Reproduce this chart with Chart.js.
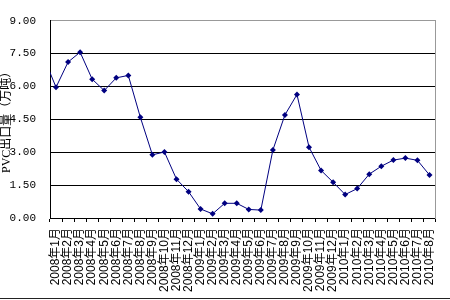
<!DOCTYPE html>
<html>
<head>
<meta charset="utf-8">
<script src="https://cdn.jsdelivr.net/npm/chart.js@4"></script>
<style>
  html, body { margin: 0; padding: 0; background: #fff; }
  #wrap { width: 450px; height: 300px; position: relative; }
  #bottomLine { position: absolute; left: 0; top: 298px; width: 450px; height: 1px; background: #222; }
</style>
</head>
<body>
<div id="wrap">
  <canvas id="exportChart" width="450" height="300"></canvas>
  <div id="bottomLine"></div>
</div>
<script>
// first label sits off the left edge, only its line stub shows
const months = [
    '2007年12月',
    '2008年1月', '2008年2月', '2008年3月', '2008年4月', '2008年5月', '2008年6月',
    '2008年7月', '2008年8月', '2008年9月', '2008年10月', '2008年11月', '2008年12月',
    '2009年1月', '2009年2月', '2009年3月', '2009年4月', '2009年5月', '2009年6月',
    '2009年7月', '2009年8月', '2009年9月', '2009年10月', '2009年11月', '2009年12月',
    '2010年1月', '2010年2月', '2010年3月', '2010年4月', '2010年5月', '2010年6月',
    '2010年7月', '2010年8月'
];
const pvcExport = [
    7.30,
    5.96, 7.11, 7.56, 6.33, 5.81, 6.39, 6.50, 4.59, 2.88, 3.01, 1.77, 1.20,
    0.41, 0.19, 0.67, 0.67, 0.39, 0.36, 3.10, 4.70, 5.63, 3.23, 2.17, 1.63,
    1.07, 1.34, 2.00, 2.36, 2.64, 2.73, 2.63, 1.96
];
const yTicks = [0, 1.5, 3, 4.5, 6, 7.5, 9];

const ctx = document.getElementById('exportChart');
new Chart(ctx, {
    type: 'line',
    data: {
        labels: months,
        datasets: [{
            label: 'PVC出口量',
            data: pvcExport,
            borderColor: '#000080',
            backgroundColor: '#000080',
            borderWidth: 1,
            pointStyle: 'rectRot',
            pointRadius: 3,
            pointBorderWidth: 0,
            tension: 0
        }]
    },
    options: {
        responsive: false,
        animation: false,
        events: [],
        layout: { padding: { top: 8, right: 7, left: 0, bottom: 0 } },
        plugins: { legend: { display: false }, tooltip: { enabled: false } },
        scales: {
            x: {
                min: '2008年1月',
                offset: true,
                grid: { offset: true, drawOnChartArea: false, drawTicks: true, tickLength: 4, color: '#000' },
                border: { color: '#000', width: 1 },
                ticks: {
                    autoSkip: false,
                    maxRotation: 90,
                    minRotation: 90,
                    padding: 6,
                    color: '#000',
                    font: { family: "Arial, 'Noto Sans CJK SC'", size: 12 }
                },
                afterFit: s => { s.height = 82; }
            },
            y: {
                min: 0,
                max: 9,
                afterBuildTicks: s => { s.ticks = yTicks.map(v => ({ value: v })); },
                grid: {
                    drawTicks: false,
                    color: c => (c.tick && c.tick.value === 9 ? '#999' : '#000'),
                    lineWidth: 1
                },
                border: { color: '#000', width: 1 },
                ticks: {
                    padding: 14,
                    color: '#000',
                    font: { family: "'Liberation Mono'", size: 11 },
                    callback: v => v.toFixed(2)
                },
                title: {
                    display: true,
                    text: 'PVC出口量（万吨）',
                    color: '#000',
                    padding: { top: 0, bottom: 0 },
                    font: { family: "'Liberation Serif', 'Noto Sans CJK SC'", size: 12 }
                },
                afterFit: s => { s.width = 50; }
            },
            y2: {
                position: 'right',
                min: 0,
                max: 9,
                grid: { drawOnChartArea: false, drawTicks: false },
                border: { color: '#999', width: 1 },
                ticks: { display: false },
                afterFit: s => { s.width = 0; }
            }
        }
    }
});
</script>
</body>
</html>
